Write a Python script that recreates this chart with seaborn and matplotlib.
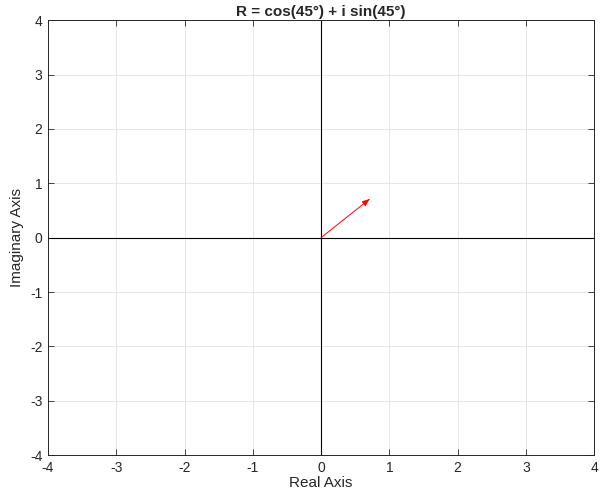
import matplotlib
matplotlib.use('Agg')
import matplotlib.pyplot as plt
import numpy as np
import pandas as pd
import seaborn as sns

# vector R = cos(45) + i sin(45)
REAL = [0.0, 0.7071]
IMAG = [0.0, 0.7071]
TICKS = [-4, -3, -2, -1, 0, 1, 2, 3, 4]

sns.set_theme(style='whitegrid')
plt.rcParams['font.family'] = ['Liberation Sans', 'DejaVu Sans']
plt.rcParams['axes.unicode_minus'] = False

fig = plt.figure(figsize=(6.07, 4.91), dpi=100)
ax = fig.add_axes([0.079, 0.073, 0.9, 0.886])

df = pd.DataFrame({'re': REAL, 'im': IMAG})

# axis lines through origin
ax.axhline(0, color='black', lw=0.8, zorder=2)
ax.axvline(0, color='black', lw=0.8, zorder=2)

# vector as a line plus head
sns.lineplot(data=df, x='re', y='im', color='red', lw=0.7, ax=ax, zorder=3, sort=False)
ax.annotate('', xy=(REAL[1], IMAG[1]), xytext=(REAL[1] - 0.05, IMAG[1] - 0.05),
            arrowprops=dict(arrowstyle='-|>,head_length=0.35,head_width=0.15',
                            color='red', lw=0.7, shrinkA=0, shrinkB=0))

ax.set_xlim(-4, 4)
ax.set_ylim(-4, 4)
ax.set_xticks(TICKS)
ax.set_yticks(TICKS)
ax.grid(True, color='#e6e6e6', lw=0.7)
for s in ax.spines.values():
    s.set_visible(True)
    s.set_color('#262626')
    s.set_linewidth(0.7)
ax.tick_params(direction='in', length=4, width=0.6, color='#262626',
               labelsize=10, labelcolor='#262626', pad=4,
               top=True, right=True, bottom=True, left=True)
ax.tick_params(axis='x', labeltop=False)
ax.tick_params(axis='y', labelright=False)
ax.set_xlabel('Real Axis', fontsize=11, color='#262626', labelpad=1)
ax.set_ylabel('Imaginary Axis', fontsize=11, color='#262626', labelpad=4)
ax.set_title('R = cos(45°) + i sin(45°)', fontsize=11, fontweight='bold', pad=3)

fig.savefig('out.png', dpi=100)
